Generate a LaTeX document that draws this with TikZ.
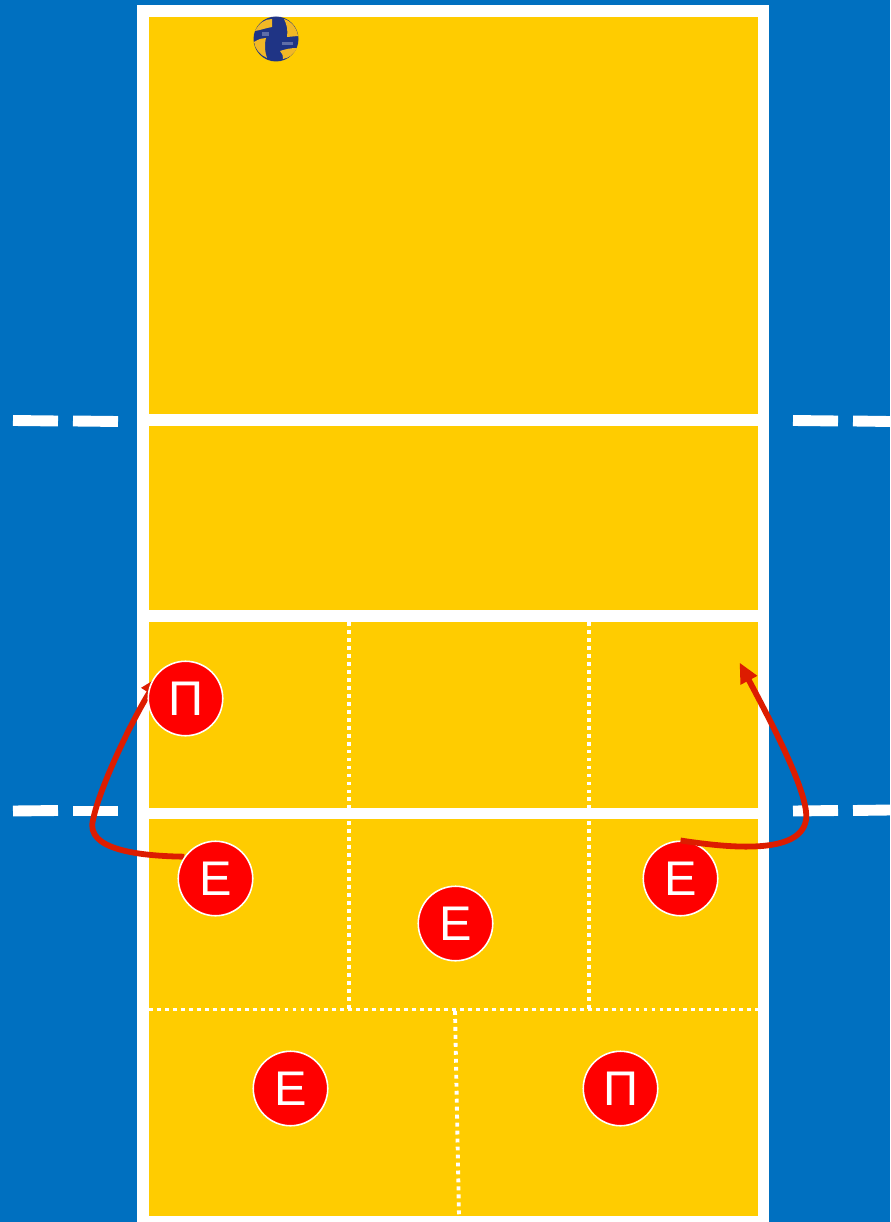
\documentclass[tikz,border=0pt]{standalone}
\usepackage{fontspec}
\setmainfont{Liberation Sans}
\usetikzlibrary{arrows.meta,backgrounds}
\definecolor{floorblue}{HTML}{0070C0}
\definecolor{courtyellow}{HTML}{FFCC00}
\definecolor{runred}{HTML}{DD1C00}
\definecolor{ballblue}{HTML}{1F3485}
\definecolor{ballyellow}{HTML}{F2B826}
\definecolor{balllabel}{HTML}{5F6EA8}

\begin{document}
\begin{tikzpicture}[
  x=0.02cm, y=-0.02cm,
  zone/.style={fill=courtyellow},
  courtline/.style={white, line width=6.2pt},
  zoneline/.style={white, line width=2.2pt, dash pattern=on 2.2pt off 2.34pt},
  panel/.style={fill=ballyellow},
  player/.style={circle, draw=white, line width=0.9pt, fill=red, text=white, inner sep=0pt, minimum size=1.49cm, font=\fontsize{27.7}{30}\selectfont},
  run/.style={runred, line width=3.3pt, -{Triangle[length=11.5pt, width=10pt]}},
]
\useasboundingbox (0,0) rectangle (890,1222);

% === Floor and court ===
\begin{scope}[on background layer]
\fill[floorblue] (0,0) rectangle (890,1222);
\fill[white] (137,5) rectangle (769,1222);
\fill[zone] (149,17) rectangle (758,414);
\fill[zone] (149,426) rectangle (758,610);
\fill[zone] (149,622) rectangle (758,808);
\fill[zone] (149,819) rectangle (758,1216);

% === Side dashes ===
\draw[courtline] (13,420.5) -- (58,421);
\draw[courtline] (73,421) -- (118,421.5);
\draw[courtline] (793,420.5) -- (838,421);
\draw[courtline] (853,421) -- (890,421.5);
\draw[courtline] (13,811) -- (58,810.5);
\draw[courtline] (73,811) -- (118,811);
\draw[courtline] (793,811) -- (838,810.5);
\draw[courtline] (853,810.5) -- (890,810);

% === Zone borders ===
\draw[zoneline] (349,622) -- (349,1009);
\draw[zoneline] (589,622) -- (589,1009);
\draw[zoneline] (149,1009.5) -- (769,1009.5);
\draw[zoneline] (455,1011) -- (459,1216);
\end{scope}

% === Ball ===
\node[circle, fill=ballblue, inner sep=0pt, minimum size=0.9cm] (ball) at (276,39) {};
\begin{scope}[shift={(ball.center)}]
\fill[panel] (-21,-8) .. controls (-17,-16) and (-11,-20) .. (-4,-20)
  -- (-4,-12) .. controls (-10,-11) and (-15,-9) .. cycle;
\fill[panel] (8,-20) .. controls (15,-18) and (21,-11) .. (22,-3)
  -- (11,-2) .. controls (12,-9) and (11,-14) .. cycle;
\fill[panel] (4,12) .. controls (10,10) and (15,9) .. (21,9)
  .. controls (18,15) and (13,19) .. (7,20) .. controls (8,17) and (6,15) .. cycle;
\fill[panel] (-22,3) .. controls (-17,0) and (-14,-1) .. (-10,-1)
  .. controls (-12,7) and (-11,13) .. (-9,19) .. controls (-16,16) and (-21,10) .. cycle;
\fill[balllabel] (-14,-7) rectangle (-7,-3);
\fill[balllabel] (6,3) rectangle (17,6);
\end{scope}

% === Players ===
\node[player] (setter) at (185.5,698.5) {П};
\node[player] (outerleft) at (215.5,878.5) {Е};
\node[player] (middle) at (455.5,923.5) {Е};
\node[player] (outerright) at (680.5,878.5) {Е};
\node[player] (backleft) at (290.5,1088.5) {Е};
\node[player] (backright) at (620.5,1088.5) {П};

% === Runs ===
\coordinate (settertip) at (160,676);
\coordinate (target) at (739.5,662.5);
\begin{scope}[on background layer]
\draw[run] (outerleft.145) .. controls (140,856) and (85,850) .. (93,820)
  .. controls (100,785) and (135,715) .. (settertip);
\end{scope}
\draw[run] (outerright.north) .. controls (730,848) and (800,855) .. (806,820)
  .. controls (810,795) and (770,720) .. (target);

\end{tikzpicture}
\end{document}
